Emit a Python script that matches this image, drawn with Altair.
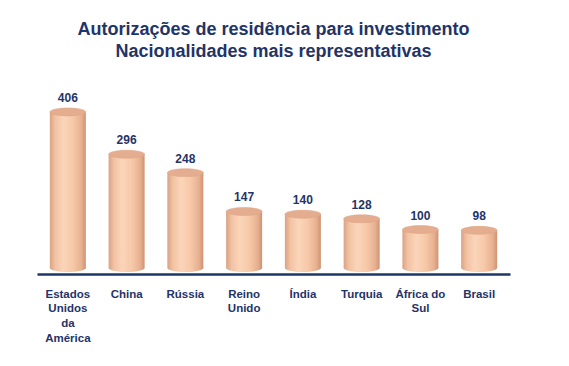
import altair as alt
import pandas as pd

categories = ["Estados Unidos da América", "China", "Rússia", "Reino Unido",
              "Índia", "Turquia", "África do Sul", "Brasil"]
label_lines = ["Estados|Unidos|da|América", "China", "Rússia", "Reino|Unido",
               "Índia", "Turquia", "África do|Sul", "Brasil"]
values = [406, 296, 248, 147, 140, 128, 100, 98]

df = pd.DataFrame({"cat": label_lines, "value": values, "zero": [0] * len(values)})

NAVY = "#1f3468"
FONT = "Liberation Sans"

body_grad = alt.Gradient(
    gradient="linear", x1=0, x2=1, y1=0, y2=0,
    stops=[
        alt.GradientStop(color="#d9a283", offset=0),
        alt.GradientStop(color="#f2c2a3", offset=0.15),
        alt.GradientStop(color="#fbd5b9", offset=0.38),
        alt.GradientStop(color="#f6c8a8", offset=0.65),
        alt.GradientStop(color="#e6b090", offset=0.88),
        alt.GradientStop(color="#cf9272", offset=1),
    ],
)

ELLIPSE = "M-1,0 A1,0.22 0 1,1 1,0 A1,0.22 0 1,1 -1,0 Z"
BW = 36

xenc = alt.X("cat:N", sort=label_lines, title=None,
             scale=alt.Scale(paddingInner=0.39, paddingOuter=0.22),
             axis=alt.Axis(labelExpr="split(datum.value, '|')", labelAngle=0,
                           labelFont=FONT, labelFontWeight="bold", labelFontSize=11.5,
                           labelColor=NAVY, labelLineHeight=14.7, labelPadding=14,
                           labelAlign="center", labelBaseline="top",
                           ticks=False, domainColor=NAVY, domainWidth=2.5, offset=6))
yscale = alt.Scale(domain=[0, 450], nice=False, zero=True)

base = alt.Chart(df)

bottom = base.mark_point(shape=ELLIPSE, size=BW * BW, filled=True, fill=body_grad,
                         stroke=None, opacity=1).encode(
    x=xenc, y=alt.Y("zero:Q", scale=yscale, axis=None))

body = base.mark_bar(fill=body_grad, width=BW).encode(
    x=xenc, y=alt.Y("value:Q", scale=yscale, axis=None), y2="zero:Q")

top = base.mark_point(shape=ELLIPSE, size=BW * BW, filled=True, fill="#e5ad8f",
                      stroke="#dba284", strokeWidth=0.5, opacity=1).encode(
    x=xenc, y=alt.Y("value:Q", scale=yscale, axis=None))

labels = base.mark_text(font=FONT, fontWeight="bold", fontSize=12, color=NAVY,
                        baseline="bottom", dy=-7).encode(
    x=xenc, y=alt.Y("value:Q", scale=yscale, axis=None), text="value:Q")

chart = alt.layer(bottom, body, top, labels).properties(
    width=473, height=173,
    padding={"left": 29, "top": 87, "right": 50, "bottom": 90},
    autosize=alt.AutoSizeParams(type="none"),
    title=alt.TitleParams(
        text=["Autorizações de residência para investimento",
              "Nacionalidades mais representativas"],
        font=FONT, fontSize=18, fontWeight="bold", color=NAVY,
        anchor="middle", lineHeight=22, offset=31),
).configure_view(stroke=None)

chart.save("out.html", embed_options={"renderer": "svg", "actions": False})
